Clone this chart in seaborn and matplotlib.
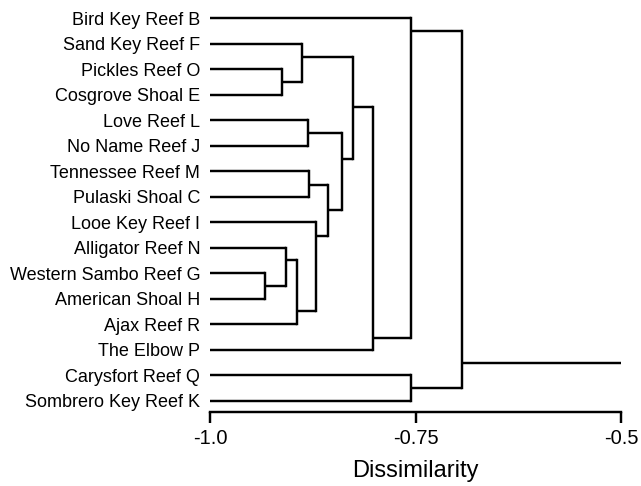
import matplotlib
matplotlib.use("Agg")
import matplotlib.pyplot as plt
import seaborn as sns

# ---- data ----
leaf_labels = ["Bird Key Reef B", "Sand Key Reef F", "Pickles Reef O", "Cosgrove Shoal E",
               "Love Reef L", "No Name Reef J", "Tennessee Reef M", "Pulaski Shoal C",
               "Looe Key Reef I", "Alligator Reef N", "Western Sambo Reef G", "American Shoal H",
               "Ajax Reef R", "The Elbow P", "Carysfort Reef Q", "Sombrero Key Reef K"]
# merges: (top child, bottom child); leaves are 0..15, new nodes numbered from 16
merge_top = [2, 1, 4, 6, 10, 9, 21, 8, 19, 18, 17, 26, 0, 14, 28]
merge_bottom = [3, 16, 5, 7, 11, 20, 12, 22, 23, 24, 25, 13, 27, 15, 29]
merge_height = [-0.912, -0.888, -0.881, -0.879, -0.933, -0.908, -0.894, -0.871,
                -0.856, -0.840, -0.826, -0.802, -0.756, -0.755, -0.693]
x_ticks = [-1.0, -0.75, -0.5]
x_tick_labels = ["-1.0", "-0.75", "-0.5"]
x_label = "Dissimilarity"

# ---- layout (where each merge's outgoing branch attaches, 0=top child, 1=bottom child) ----
attach = [0.5, 0.34, 0.5, 0.55, 0.5, 0.31, 0.8, 0.15, 0.5, 0.34, 0.49, 0.95, 0.04, 0.5, 0.93]

sns.set_style("ticks")
plt.rcParams["font.family"] = ["Liberation Sans", "DejaVu Sans"]
plt.rcParams["text.color"] = "black"
plt.rcParams["axes.labelcolor"] = "black"
plt.rcParams["xtick.color"] = "black"
plt.rcParams["ytick.color"] = "black"

fig = plt.figure(figsize=(6.41, 4.86), dpi=100)
ax = fig.add_axes([210 / 641, 1 - 412 / 486, 411 / 641, 412 / 486])

n_leaves = len(leaf_labels)
node_x = {i: -1.0 for i in range(n_leaves)}
node_y = {i: float(i) for i in range(n_leaves)}
lw = 1.75
for k, (a, b, h, f) in enumerate(zip(merge_top, merge_bottom, merge_height, attach)):
    ya, yb = node_y[a], node_y[b]
    ax.plot([node_x[a], h], [ya, ya], color="black", lw=lw, solid_capstyle="butt", clip_on=False)
    ax.plot([node_x[b], h], [yb, yb], color="black", lw=lw, solid_capstyle="butt", clip_on=False)
    ax.plot([h, h], [ya, yb], color="black", lw=lw, solid_capstyle="projecting", clip_on=False)
    new = n_leaves + k
    node_x[new] = h
    node_y[new] = ya + f * (yb - ya)
root = n_leaves + len(merge_height) - 1
ax.plot([node_x[root], x_ticks[-1]], [node_y[root], node_y[root]], color="black", lw=lw,
        solid_capstyle="butt", clip_on=False)

ax.set_xlim(-1.0, -0.5)
ax.set_ylim(15 + 11 / 25.53, -18 / 25.53)
ax.set_yticks(range(n_leaves))
ax.set_yticklabels(leaf_labels, fontsize=13, color="black")
ax.tick_params(axis="y", length=0, pad=7)
ax.set_xticks(x_ticks)
ax.set_xticklabels(x_tick_labels, fontsize=14.5, color="black")
ax.tick_params(axis="x", length=8, width=1.75, direction="out", pad=4, color="black")
ax.set_xlabel(x_label, fontsize=17, labelpad=9, color="black")
for s in ["left", "right", "top"]:
    ax.spines[s].set_visible(False)
ax.spines["bottom"].set_linewidth(1.75)
ax.spines["bottom"].set_color("black")
ax.spines["bottom"].set_bounds(-1.0, -0.5)
ax.patch.set_alpha(0)

fig.savefig("out.png", dpi=100)
